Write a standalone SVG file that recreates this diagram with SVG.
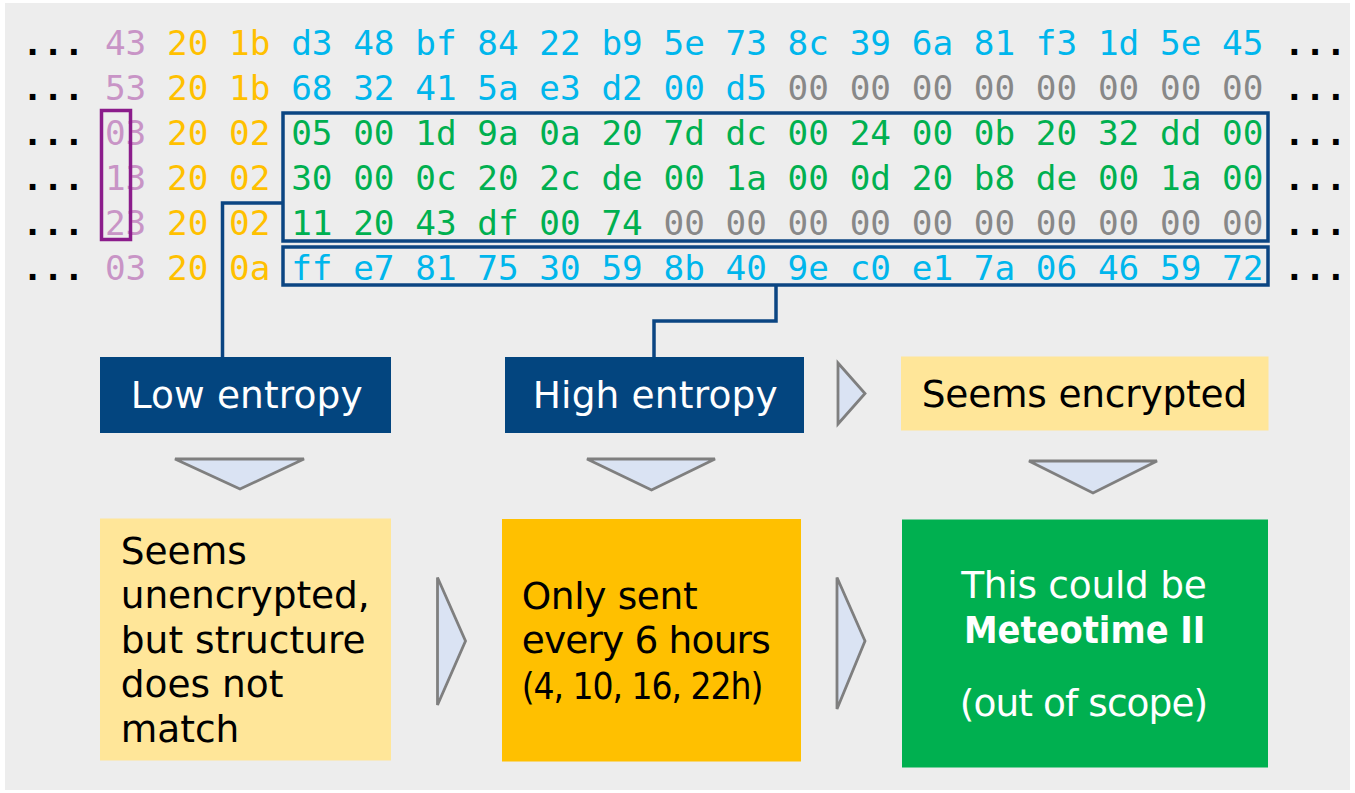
<svg xmlns="http://www.w3.org/2000/svg" width="1355" height="793" viewBox="0 0 1355 793">
  <style>
    .hex { font-family: "DejaVu Sans Mono", "Liberation Mono", monospace; font-size: 34.37px; }
    .dot { fill: #000000; font-weight: bold; }
    .pk { fill: #c894c6; }
    .yl { fill: #ffc000; }
    .cy { fill: #00b6ec; }
    .gn { fill: #00b050; }
    .gy { fill: #888888; }
    .lbl { font-family: "DejaVu Sans", "Liberation Sans", sans-serif; font-size: 37.5px; }
    .wt { fill: #ffffff; }
    .bk { fill: #000000; }
    .frame { fill: none; stroke: #0b4582; stroke-width: 3.5; }
    .wire { fill: none; stroke: #0b4582; stroke-width: 3.5; }
    .tri { fill: #dae3f3; stroke: #7f7f7f; stroke-width: 2.8; stroke-linejoin: miter; }
    .navy { fill: #03457f; }
    .pale { fill: #ffe699; }
    .amber { fill: #ffc000; }
    .green { fill: #00b050; }
  </style>

  <!-- backdrop -->
  <rect x="5" y="3" width="1345" height="787" fill="#ededed"/>

  <!-- hex dump rows -->
  <g id="hexdump" class="hex" xml:space="preserve">
    <text x="22.2" y="55"><tspan class="dot">...</tspan> <tspan class="pk">43</tspan> <tspan class="yl">20 1b</tspan> <tspan class="cy">d3 48 bf 84 22 b9 5e 73 8c 39 6a 81 f3 1d 5e 45</tspan> <tspan class="dot">...</tspan></text>
    <text x="22.2" y="100"><tspan class="dot">...</tspan> <tspan class="pk">53</tspan> <tspan class="yl">20 1b</tspan> <tspan class="cy">68 32 41 5a e3 d2 00 d5</tspan> <tspan class="gy">00 00 00 00 00 00 00 00</tspan> <tspan class="dot">...</tspan></text>
    <text x="22.2" y="145"><tspan class="dot">...</tspan> <tspan class="pk">03</tspan> <tspan class="yl">20 02</tspan> <tspan class="gn">05 00 1d 9a 0a 20 7d dc 00 24 00 0b 20 32 dd 00</tspan> <tspan class="dot">...</tspan></text>
    <text x="22.2" y="190"><tspan class="dot">...</tspan> <tspan class="pk">13</tspan> <tspan class="yl">20 02</tspan> <tspan class="gn">30 00 0c 20 2c de 00 1a 00 0d 20 b8 de 00 1a 00</tspan> <tspan class="dot">...</tspan></text>
    <text x="22.2" y="235"><tspan class="dot">...</tspan> <tspan class="pk">23</tspan> <tspan class="yl">20 02</tspan> <tspan class="gn">11 20 43 df 00 74</tspan> <tspan class="gy">00 00 00 00 00 00 00 00 00 00</tspan> <tspan class="dot">...</tspan></text>
    <text x="22.2" y="280"><tspan class="dot">...</tspan> <tspan class="pk">03</tspan> <tspan class="yl">20 0a</tspan> <tspan class="cy">ff e7 81 75 30 59 8b 40 9e c0 e1 7a 06 46 59 72</tspan> <tspan class="dot">...</tspan></text>
  </g>

  <!-- highlight frames over the dump -->
  <g id="highlights">
    <rect x="101.5" y="110.5" width="29" height="129" fill="none" stroke="#8b1c8b" stroke-width="3.5"/>
    <rect id="frame-low" class="frame" x="283" y="113" width="985" height="128"/>
    <rect id="frame-high" class="frame" x="283" y="247" width="985" height="38"/>
  </g>

  <!-- connectors and flow arrows -->
  <g id="connectors">
    <polyline class="wire" points="283,203 222.5,203 222.5,357"/>
    <polyline class="wire" points="776,285 776,321 654,321 654,357"/>
    <polygon class="tri" points="175,459 304,459 240,489"/>
    <polygon class="tri" points="587,459 715,459 651.5,490"/>
    <polygon class="tri" points="1029,461 1157,461 1093,493"/>
    <polygon class="tri" points="838,363 865,393.5 838,424"/>
    <polygon class="tri" points="437.5,577.5 465.5,641 437.5,705"/>
    <polygon class="tri" points="837,577.5 865,641 837,709"/>
  </g>

  <g id="node-low">
    <rect class="navy" x="100" y="357" width="291" height="76"/>
    <text class="lbl wt" x="130.7" y="407.7" textLength="232">Low entropy</text>
  </g>

  <g id="node-high">
    <rect class="navy" x="505" y="357" width="299" height="76"/>
    <text class="lbl wt" x="532.7" y="408" textLength="245">High entropy</text>
  </g>

  <g id="node-encrypted">
    <rect class="pale" x="901" y="356.5" width="367.5" height="74"/>
    <text class="lbl bk" x="921.7" y="407.2" textLength="325.5">Seems encrypted</text>
  </g>

  <g id="node-unencrypted">
    <rect class="pale" x="100" y="518.5" width="291" height="242"/>
    <text class="lbl bk" x="120.7" y="564">Seems</text>
    <text class="lbl bk" x="120.7" y="608.3" textLength="249">unencrypted,</text>
    <text class="lbl bk" x="120.7" y="653.3" textLength="245">but structure</text>
    <text class="lbl bk" x="120.7" y="697.3">does not</text>
    <text class="lbl bk" x="120.7" y="742.3">match</text>
  </g>

  <g id="node-schedule">
    <rect class="amber" x="502" y="519" width="299" height="242.5"/>
    <text class="lbl bk" x="521.7" y="609" textLength="176">Only sent</text>
    <text class="lbl bk" x="521.7" y="653.3" textLength="249">every 6 hours</text>
    <text class="lbl bk" x="521.7" y="699" letter-spacing="-1.2" textLength="240.6" lengthAdjust="spacingAndGlyphs">(4, 10, 16, 22h)</text>
  </g>

  <g id="node-meteotime">
    <rect class="green" x="902" y="519.5" width="366" height="248"/>
    <text class="lbl wt" x="1084" y="598.3" text-anchor="middle" textLength="245.7">This could be</text>
    <text class="lbl wt" x="1084.7" y="643.3" text-anchor="middle" font-weight="bold" textLength="241.5" lengthAdjust="spacingAndGlyphs">Meteotime II</text>
    <text class="lbl wt" x="1084" y="715.6" text-anchor="middle" textLength="248.4">(out of scope)</text>
  </g>
</svg>
